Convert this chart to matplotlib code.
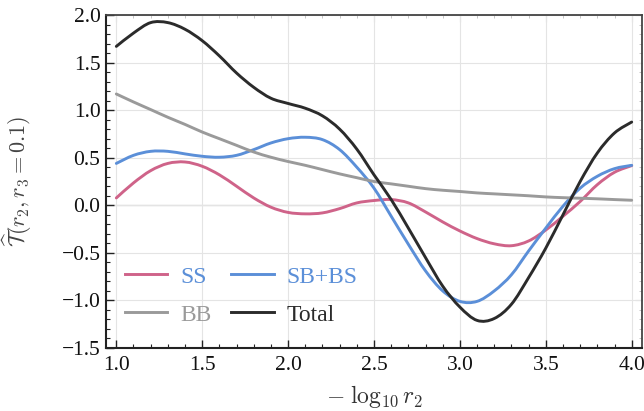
import matplotlib
matplotlib.use("Agg")
import matplotlib.pyplot as plt
import numpy as np
from matplotlib.path import Path
from matplotlib.patches import PathPatch
from matplotlib.lines import Line2D
from matplotlib.ticker import MultipleLocator

# values, x = -log10 r2 on a 0.1 grid
x = [1.0, 1.1, 1.2, 1.3, 1.4, 1.5, 1.6, 1.7, 1.8, 1.9, 2.0,
     2.1, 2.2, 2.3, 2.4, 2.5, 2.6, 2.7, 2.8, 2.9, 3.0,
     3.1, 3.2, 3.3, 3.4, 3.5, 3.6, 3.7, 3.8, 3.9, 4.0]

ss = [0.077, 0.235, 0.364, 0.44, 0.455, 0.41, 0.32, 0.20, 0.077, -0.02, -0.075,
      -0.09, -0.08, -0.035, 0.025, 0.05, 0.06, 0.025, -0.07, -0.175, -0.27,
      -0.35, -0.405, -0.425, -0.375, -0.26, -0.115, 0.04, 0.217, 0.347, 0.417]

sb_bs = [0.44, 0.525, 0.567, 0.567, 0.54, 0.515, 0.505, 0.525, 0.585, 0.655, 0.70,
         0.715, 0.69, 0.585, 0.40, 0.18, -0.115, -0.41, -0.69, -0.90, -1.01,
         -1.01, -0.90, -0.73, -0.48, -0.24, -0.01, 0.18, 0.305, 0.385, 0.42]

bb = [1.17, 1.086, 1.006, 0.925, 0.85, 0.77, 0.70, 0.63, 0.56, 0.505, 0.46,
      0.42, 0.375, 0.33, 0.29, 0.25, 0.225, 0.20, 0.175, 0.158, 0.145,
      0.13, 0.12, 0.11, 0.10, 0.088, 0.08, 0.074, 0.068, 0.06, 0.053]

total = [1.67, 1.81, 1.92, 1.92, 1.85, 1.73, 1.57, 1.39, 1.24, 1.125, 1.07,
         1.02, 0.94, 0.80, 0.59, 0.32, 0.06, -0.24, -0.55, -0.85, -1.07,
         -1.21, -1.19, -1.04, -0.76, -0.45, -0.10, 0.25, 0.55, 0.76, 0.875]

labels = ["SS", "SB+BS", "BB", "Total"]
colors = ["#cf6389", "#5b8fd8", "#9a9a9a", "#2b2b2b"]
text_colors = ["#5b8fd8", "#5b8fd8", "#9a9a9a", "#2b2b2b"]


def smooth_path(xs, ys):
    # Catmull-Rom through the read points, drawn as cubic Bezier segments
    p = np.column_stack([xs, ys])
    ext = np.vstack([p[0], p, p[-1]])
    verts = [p[0]]
    codes = [Path.MOVETO]
    for i in range(len(p) - 1):
        p0, p1, p2, p3 = ext[i], ext[i + 1], ext[i + 2], ext[i + 3]
        verts += [p1 + (p2 - p0) / 6, p2 - (p3 - p1) / 6, p2]
        codes += [Path.CURVE4] * 3
    return Path(verts, codes)


plt.rcParams["font.family"] = ["Liberation Serif", "DejaVu Serif"]
plt.rcParams["mathtext.fontset"] = "cm"

fig = plt.figure(figsize=(6.44, 4.11), dpi=100)
ax = fig.add_axes([0.1646, 0.1533, 0.8323, 0.8102])

ax.axhline(0, color="#777777", lw=0.8, zorder=1)

handles = []
for ys, lab, c in zip([ss, sb_bs, bb, total], labels, colors):
    ax.add_patch(PathPatch(smooth_path(x, ys), fill=False, edgecolor=c, lw=2.1,
                           capstyle="round", joinstyle="round", zorder=3))
    handles.append(Line2D([], [], color=c, lw=2.1))

ax.set_xlim(0.94, 4.06)
ax.set_ylim(-1.5, 2.0)
ax.xaxis.set_major_locator(MultipleLocator(0.5))
ax.xaxis.set_minor_locator(MultipleLocator(0.1))
ax.yaxis.set_major_locator(MultipleLocator(0.5))
ax.yaxis.set_minor_locator(MultipleLocator(0.1))
ax.grid(True, which="major", color="#e4e4e4", lw=0.8, zorder=0)

ax.tick_params(which="both", direction="in", labelsize=15.5, color="#222222",
               labelcolor="#111111")
ax.tick_params(which="major", length=6, width=1.0)
ax.tick_params(which="minor", length=3, width=0.8)
ax.tick_params(axis="x", pad=6)
ax.tick_params(axis="y", pad=4)
ax.set_xticks([1.0, 1.5, 2.0, 2.5, 3.0, 3.5, 4.0])
ax.set_yticks([-1.5, -1.0, -0.5, 0.0, 0.5, 1.0, 1.5, 2.0])
ax.set_yticklabels(["\u22121.5", "\u22121.0", "\u22120.5", "0.0", "0.5", "1.0", "1.5", "2.0"])

for side in ["left", "bottom"]:
    ax.spines[side].set_linewidth(1.5)
    ax.spines[side].set_color("#222222")
for side in ["top", "right"]:
    ax.spines[side].set_linewidth(1.3)
    ax.spines[side].set_color("#444444")

# faint ticks on the top and right edges
top = ax.secondary_xaxis("top")
top.xaxis.set_major_locator(MultipleLocator(0.5))
top.xaxis.set_minor_locator(MultipleLocator(0.1))
top.tick_params(which="both", direction="in", labeltop=False, color="#bbbbbb")
top.tick_params(which="major", length=5)
top.tick_params(which="minor", length=2.5)
right = ax.secondary_yaxis("right")
right.yaxis.set_major_locator(MultipleLocator(0.5))
right.yaxis.set_minor_locator(MultipleLocator(0.1))
right.tick_params(which="both", direction="in", labelright=False, color="#bbbbbb")
right.tick_params(which="major", length=5)
right.tick_params(which="minor", length=2.5)
for s in top.spines.values():
    s.set_visible(False)
for s in right.spines.values():
    s.set_visible(False)

ax.set_xlabel(r"$-\;\log_{10} r_2$", fontsize=17, color="#333333")
ax.xaxis.set_label_coords(0.5, -0.105)
ax.set_ylabel(r"$\widehat{\mathcal{T}}(r_2, r_3 = 0.1)$", fontsize=16, color="#444444")
ax.yaxis.set_label_coords(-0.135, 0.5)

# column-first fill: SS/BB in the first column, SB+BS/Total in the second
order = [0, 2, 1, 3]
leg = ax.legend([handles[i] for i in order], [labels[i] for i in order], ncol=2,
                loc="upper left", bbox_to_anchor=(-0.005, 0.31), frameon=False,
                fontsize=17, handlelength=1.8, handletextpad=0.55,
                columnspacing=0.85, labelspacing=0.7)
for t, i in zip(leg.get_texts(), order):
    t.set_color(text_colors[i])

fig.savefig("out.png", dpi=100)
